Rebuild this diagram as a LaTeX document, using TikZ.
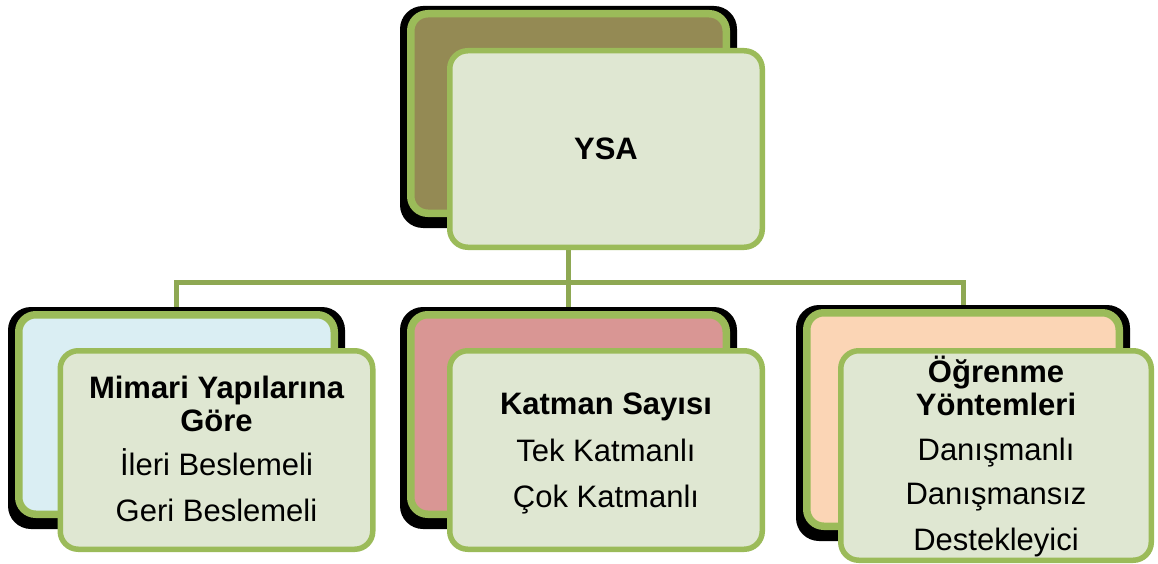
\documentclass[tikz,border=0pt]{standalone}
\usepackage{fontspec}
\setmainfont{Liberation Sans}
\usetikzlibrary{backgrounds}

\definecolor{rim}{HTML}{9BBB59}
\definecolor{linkgreen}{HTML}{8EA853}
\definecolor{paper}{HTML}{DFE7D2}
\definecolor{olive}{HTML}{948A54}
\definecolor{ice}{HTML}{DAEEF3}
\definecolor{rose}{HTML}{D99694}
\definecolor{peach}{HTML}{FBD5B5}

\tikzset{
  backcard/.style={draw=rim, line width=7.5pt, rounded corners=17pt, inner sep=0pt,
    minimum width=315.5pt, minimum height=199.5pt},
  frontcard/.style={draw=rim, fill=paper, line width=5.5pt, rounded corners=18pt,
    inner sep=0pt, minimum width=312.5pt, minimum height=198.5pt},
  cardshadow/.style={fill=black, rounded corners=23pt},
  head/.style={font=\fontsize{31}{33}\selectfont\bfseries, anchor=base, inner sep=0pt},
  item/.style={font=\fontsize{31}{33}\selectfont, anchor=base, inner sep=0pt},
  branch/.style={draw=linkgreen, line width=5pt},
}

\newcommand{\cardshadow}[1]{%
  \fill[cardshadow] ([shift={(-7pt,4pt)}]#1.north west) rectangle ([shift={(7pt,-11pt)}]#1.south east);}

\begin{document}
\begin{tikzpicture}[x=1pt, y=-1pt]
\useasboundingbox (0,0) rectangle (1158,564);

% root card pair
\node[backcard, fill=olive] (b0) at (568.5,113.5) {};
\node[frontcard, minimum height=196.5pt] (f0) at (606,149) {};
\node[head] (t0) at (606,160) {YSA};

% left card pair
\node[backcard, fill=ice] (b1) at (176.5,414.5) {};
\node[frontcard] (f1) at (216.5,450) {};
\node[head] (t1a) at (216.5,398) {Mimari Yapılarına};
\node[head] (t1b) at (216.5,431) {Göre};
\node[item] (t1c) at (216.5,475.5) {İleri Beslemeli};
\node[item] (t1d) at (216.5,521) {Geri Beslemeli};

% middle card pair
\node[backcard, fill=rose] (b2) at (568.5,414.5) {};
\node[frontcard] (f2) at (606,450) {};
\node[head] (t2a) at (606,414) {Katman Sayısı};
\node[item] (t2b) at (606,461) {Tek Katmanlı};
\node[item] (t2c) at (606,507) {Çok Katmanlı};

% right card pair
\node[backcard, fill=peach, minimum width=312.5pt, minimum height=213.5pt] (b3) at (963,419.5) {};
\node[frontcard, minimum width=310.5pt, minimum height=209.5pt] (f3) at (996,455.5) {};
\node[head] (t3a) at (996,382) {Öğrenme};
\node[head] (t3b) at (996,415) {Yöntemleri};
\node[item] (t3c) at (996,460) {Danışmanlı};
\node[item] (t3d) at (996,504) {Danışmansız};
\node[item] (t3e) at (996,550) {Destekleyici};

\coordinate (bus) at (0,282);

\begin{pgfonlayer}{background}
  % tree connectors
  \draw[branch] (b0.center) -- (b0.center |- bus);
  \draw[branch] (b1.north) -- (b1.north |- bus) -- (b3.north |- bus) -- (b3.north);
  \draw[branch] (b2.north) -- (b2.north |- bus);
  % hard shadows behind the back cards
  \cardshadow{b0}
  \cardshadow{b1}
  \cardshadow{b2}
  \cardshadow{b3}
\end{pgfonlayer}
\end{tikzpicture}
\end{document}
